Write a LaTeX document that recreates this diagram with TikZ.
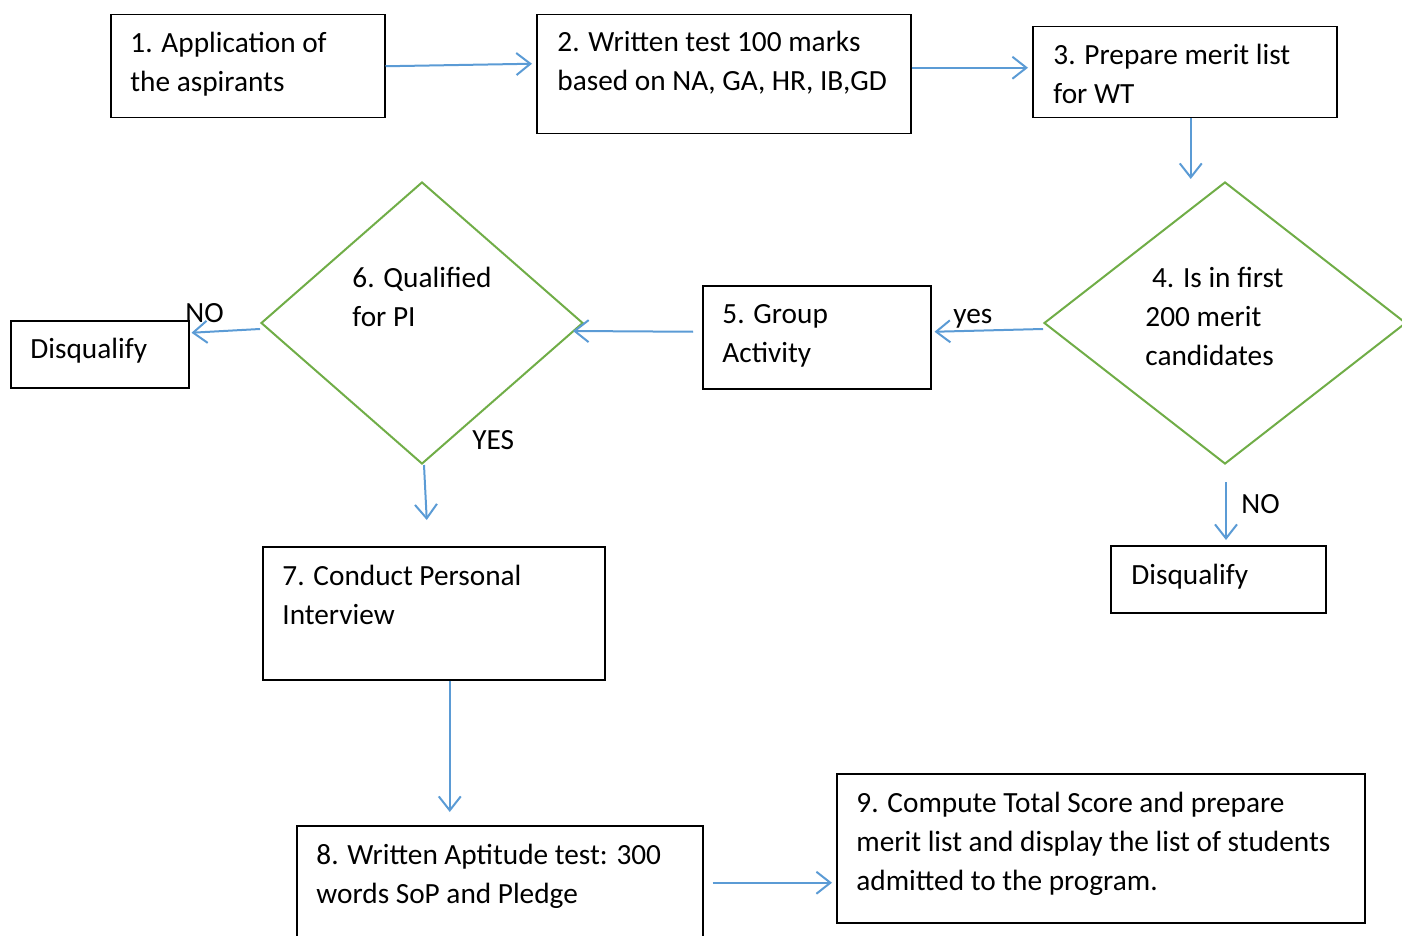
\documentclass[tikz,border=0pt]{standalone}
\usepackage{fontspec}
\setmainfont{Carlito}
\usepackage{xcolor}
\usetikzlibrary{arrows.meta, positioning, calc, shapes.geometric}

\definecolor{flowblue}{RGB}{91,155,213}
\definecolor{decgreen}{RGB}{112,173,71}

\tikzset{
  box/.style={draw=black, line width=0.75pt, anchor=north west, inner sep=0pt},
  decide/.style={diamond, draw=decgreen, line width=1pt, inner sep=0pt},
  txt/.style={anchor=base west, align=left, inner sep=0pt,
    font=\fontsize{14.65}{19.5}\selectfont},
  flow/.style={-{Straight Barb[length=7pt, width=11pt]}, draw=flowblue, line width=1pt}
}

\begin{document}
\begin{tikzpicture}[x=0.5pt, y=-0.5pt]
  \useasboundingbox (0,0) rectangle (1402,936);

  % Boxes
  \node[box, minimum width=137pt, minimum height=51.5pt] (app) at (110,14) {};
  \node[box, minimum width=187pt, minimum height=59.5pt] (wt) at (536,14) {};
  \node[box, minimum width=152pt, minimum height=45.5pt] (merit) at (1032,26) {};
  \node[box, minimum width=114pt, minimum height=51.5pt] (grp) at (702,285) {};
  \node[box, minimum width=89pt, minimum height=33.5pt] (dql) at (10,320) {};
  \node[box, minimum width=107.5pt, minimum height=33.5pt] (dqr) at (1110,545) {};
  \node[box, minimum width=171pt, minimum height=66.5pt] (pi) at (262,546) {};
  \node[box, minimum width=203pt, minimum height=70pt] (wat) at (296,825) {};
  \node[box, minimum width=264pt, minimum height=74.5pt] (tot) at (836,773) {};

  % Decisions
  \node[decide, minimum width=181pt, minimum height=141pt] (q200) at (1225,323) {};
  \node[decide, minimum width=161pt, minimum height=141pt] (qpi) at (422,323) {};

  % Texts (base = last line)
  \node[txt] (app-t) at (130,92) {1. Application of\\the aspirants};
  \node[txt] (wt-t) at (557,91) {2. Written test 100 marks\\based on NA, GA, HR, IB,GD};
  \node[txt] (merit-t) at (1053,104) {3. Prepare merit list\\for WT};
  \node[txt] (q200-t) at (1145,365) {\hspace*{3.3pt}4. Is in first\\200 merit\\candidates};
  \node[txt] (grp-t) at (722,362) {5. Group\\Activity};
  \node[txt] (qpi-t) at (352,326) {6. Qualified\\for PI};
  \node[txt] (dql-t) at (30,358) {Disqualify};
  \node[txt] (dqr-t) at (1131,584) {Disqualify};
  \node[txt] (pi-t) at (282,624) {7. Conduct Personal\\Interview};
  \node[txt] (wat-t) at (316,903) {8. Written Aptitude test: 300\\words SoP and Pledge};
  \node[txt] (tot-t) at (856,890) {9. Compute Total Score and prepare\\merit list and display the list of students\\admitted to the program.};

  % Labels
  \node[txt] (no-l) at (185,322) {NO};
  \node[txt] (yes-l) at (953,323) {yes};
  \node[txt] (yes-u) at (472,449) {YES};
  \node[txt] (no-r) at (1241,513) {NO};

  % Connectors
  \draw[flow] (app.east) -- ($(wt.west)+(-4,-10.5)$);
  \draw[flow] ($(wt.east)+(0,-6.5)$) -- ($(merit.west)+(-4,-4.5)$);
  \draw[flow] ($(merit.south)+(6,0)$) -- ($(merit.south |- q200.north)+(6,-2)$);
  \draw[flow] ($(q200.west)+(0,6)$) -- ($(grp.east)+(3,-5.5)$);
  \draw[flow] ($(grp.west)+(-9,-5.5)$) -- ($(qpi.east)+(-11,8)$);
  \draw[flow] ($(qpi.west)+(0,6)$) -- ($(dql.east)+(2,-21.5)$);
  \draw[flow] ($(qpi.south)+(2,0)$) -- ($(pi.north)+(-7,-26)$);
  \draw[flow] ($(pi.south)+(16,0)$) -- ($(pi.south |- wat.north)+(16,-13)$);
  \draw[flow] ($(wat.east)+(9,-13)$) -- ($(wat.east -| tot.west)+(-4,-13)$);
  \draw[flow] ($(q200.south)+(1,17)$) -- ($(q200.south |- dqr.north)+(1,-5)$);
\end{tikzpicture}
\end{document}
